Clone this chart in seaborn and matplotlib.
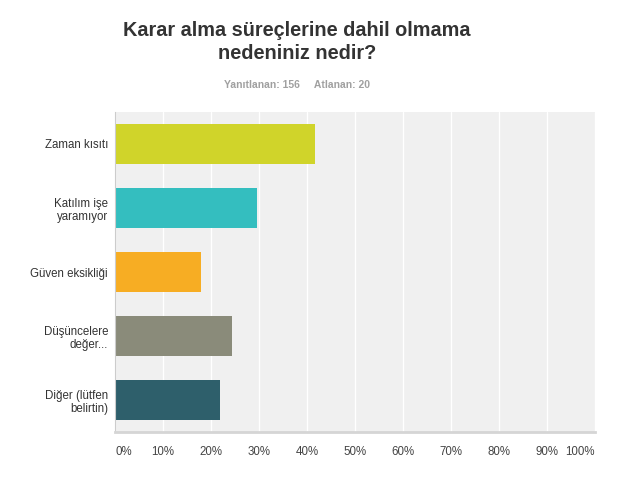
import matplotlib
matplotlib.use('Agg')
import matplotlib.pyplot as plt
import seaborn as sns
import pandas as pd

categories = ['Zaman kısıtı', 'Katılım işe\nyaramıyor', 'Güven eksikliği',
              'Düşüncelere\ndeğer...', 'Diğer (lütfen\nbelirtin)']
percents = [41.67, 29.49, 17.95, 24.36, 21.79]
colors = ['#D0D42A', '#34BEBF', '#F7AD23', '#8A8B7A', '#2E5F6B']
tick_vals = [0, 10, 20, 30, 40, 50, 60, 70, 80, 90, 100]
tick_labels = ['0%', '10%', '20%', '30%', '40%', '50%', '60%', '70%', '80%', '90%', '100%']

sns.set_style('white')
plt.rcParams['font.family'] = ['Liberation Sans', 'DejaVu Sans']

df = pd.DataFrame({'cat': categories, 'pct': percents})

fig = plt.figure(figsize=(6.22, 4.79), dpi=100)
ax = fig.add_axes([115 / 622, 1 - 432 / 479, 480 / 622, 320 / 479])
ax.set_facecolor('#F0F0F0')

sns.barplot(data=df, x='pct', y='cat', hue='cat', palette=colors,
            width=0.62, saturation=1, legend=False, linewidth=0, ax=ax)

ax.set_xlim(0, 100)
ax.set_xticks(tick_vals)
ax.set_xticklabels(tick_labels, fontsize=8.3, color='#444444')
for i, lab in enumerate(ax.get_xticklabels()):
    if i == 0:
        lab.set_horizontalalignment('left')
    elif i == len(tick_vals) - 1:
        lab.set_horizontalalignment('right')
ax.tick_params(axis='x', length=0, pad=10)
ax.tick_params(axis='y', length=0, pad=5)
for lab in ax.get_yticklabels():
    lab.set_fontsize(8.3)
    lab.set_color('#333333')
    lab.set_horizontalalignment('right')
    lab.set_multialignment('right')

ax.grid(axis='x', color='white', linewidth=1)
ax.set_axisbelow(True)
ax.set_xlabel('')
ax.set_ylabel('')
for s in ['top', 'right']:
    ax.spines[s].set_visible(False)
ax.spines['left'].set_color('#CCCCCC')
ax.spines['bottom'].set_color('#D5D5D5')
ax.spines['bottom'].set_linewidth(2)

fig.text(297 / 622, 1 - 42 / 479, 'Karar alma süreçlerine dahil olmama\nnedeniniz nedir?',
         ha='center', va='center', fontsize=14.3, fontweight='bold', color='#333333',
         linespacing=1.3)
fig.text(297 / 622, 1 - 85 / 479, 'Yanıtlanan: 156     Atlanan: 20',
         ha='center', va='center', fontsize=7.5, fontweight='bold', color='#A0A0A0')

fig.savefig('out.png', dpi=100)
